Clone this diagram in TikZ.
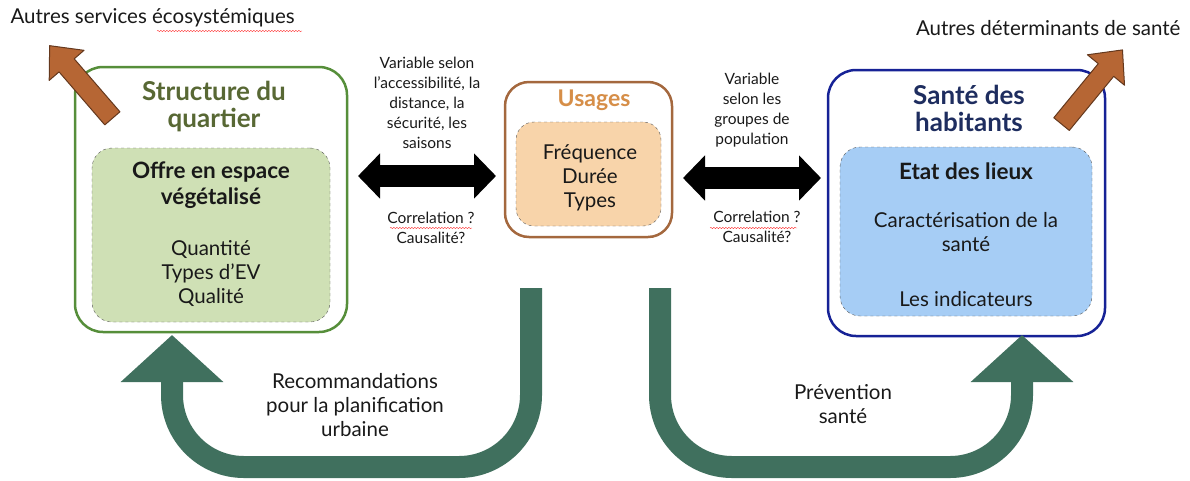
\documentclass[tikz,border=0pt]{standalone}
\usepackage{fontspec}
\setmainfont{Lato}
\usetikzlibrary{arrows.meta,decorations.pathmorphing}
\definecolor{vertbord}{RGB}{86,142,58}
\definecolor{vertitre}{RGB}{88,104,52}
\definecolor{vertfond}{RGB}{207,224,181}
\definecolor{brunbord}{RGB}{164,104,62}
\definecolor{bruntitre}{RGB}{214,142,72}
\definecolor{brunfond}{RGB}{248,212,170}
\definecolor{bleubord}{RGB}{22,34,150}
\definecolor{bleutitre}{RGB}{30,45,95}
\definecolor{bleufond}{RGB}{166,205,245}
\definecolor{brunfleche}{RGB}{182,102,52}
\definecolor{vertfleche}{RGB}{64,112,94}
\begin{document}
\begin{tikzpicture}[x=1pt,y=-1pt,
  cadre/.style={draw,line width=2.5pt,rounded corners=28pt,fill=white},
  interne/.style={draw=gray!70!black,dashed,thin,rounded corners=20pt},
  titre/.style={font=\fontsize{26}{27}\selectfont\bfseries,align=center},
  soustitre/.style={font=\fontsize{22.5}{26}\selectfont\bfseries,align=center,text=black!90},
  texte/.style={font=\fontsize{20.5}{24}\selectfont,align=center,text=black!90},
  petit/.style={font=\fontsize{15.5}{20}\selectfont,align=center,text=black!90},
  fleche/.style={line width=22pt,black,{Triangle[width=44pt,length=22pt]}-{Triangle[width=44pt,length=22pt]}},
  retour/.style={line width=22pt,vertfleche,rounded corners=72pt,-{Triangle[width=100pt,length=47pt]}},
  brun/.style={fill=brunfleche,draw=brunfleche!55!black,line width=1pt,line join=round},
  souligne/.style={red!80,thin,decorate,decoration={snake,amplitude=.7pt,segment length=3pt}}]
\useasboundingbox (0,0) rectangle (1190,480);

% cadres
\node[cadre,draw=vertbord,minimum width=272pt,minimum height=265pt] (quartier) at (211,199.5) {};
\node[interne,fill=vertfond,minimum width=238pt,minimum height=174pt] (offre) at (211,235) {};
\node[cadre,draw=brunbord,rounded corners=24pt,minimum width=167pt,minimum height=155pt] (usages) at (588.5,159.5) {};
\node[interne,fill=brunfond,rounded corners=18pt,minimum width=145pt,minimum height=104pt] (frequence) at (588.5,174) {};
\node[cadre,draw=bleubord,minimum width=277pt,minimum height=266pt] (sante) at (966.5,203) {};
\node[interne,fill=bleufond,minimum width=252pt,minimum height=169pt] (etat) at (966,231.5) {};

% fleches brunes
\draw[brun,shift={(81,82)},rotate=130.8] (-48,-10) -- (22,-10) -- (22,-23) -- (48,0) -- (22,23) -- (22,10) -- (-48,10) -- cycle;
\draw[brun,shift={(1092,87)},rotate=50.6] (-48,-10) -- (22,-10) -- (22,-24) -- (48,0) -- (22,24) -- (22,10) -- (-48,10) -- cycle;

% textes des cadres
\node[titre,text=vertitre] (tquartier) at (214,107) {Structure du\\quartier};
\node[soustitre] (toffre) at (211,185) {Offre en espace\\végétalisé};
\node[texte] (qoffre) at (211,273) {Quantité\\Types d’EV\\Qualité};
\node[titre,text=bruntitre,font=\fontsize{23}{26}\selectfont\bfseries] (tusages) at (594,100) {Usages};
\node[texte] (qusages) at (590,178) {Fréquence\\Durée\\Types};
\node[titre,text=bleutitre] (tsante) at (969,108) {Santé des\\habitants};
\node[soustitre] (tetat) at (966,171) {Etat des lieux};
\node[texte] (carac) at (966,232.5) {Caractérisation de la\\santé};
\node[texte] (indic) at (966,299) {Les indicateurs};

% textes libres
\node[texte,anchor=west] (autres1) at (7,18) {Autres services écosystémiques};
\node[texte,anchor=east] (autres2) at (1184,28) {Autres déterminants de santé};
\node[petit] (var1) at (427,103) {Variable selon\\l’accessibilité, la\\distance, la\\sécurité, les\\saisons};
\node[petit] (cor1) at (431,227.5) {Correlation ?\\Causalité?};
\node[petit] (var2) at (752,110.5) {Variable\\selon les\\groupes de\\population};
\node[petit] (cor2) at (757,227) {Correlation ?\\Causalité?};
\node[texte] (recom) at (355,405) {Recommandations\\pour la planification\\urbaine};
\node[texte] (prev) at (843,404.5) {Prévention\\santé};
\draw[souligne] (157,31) -- (302,31);
\draw[souligne] (390,228) -- (472,228);
\draw[souligne] (710,228) -- (797,228);

% fleches noires
\coordinate (a1) at (358,176);
\coordinate (a2) at (496,176);
\coordinate (b1) at (683,178);
\coordinate (b2) at (821,178);
\draw[fleche] (a1) -- (a2);
\draw[fleche] (b1) -- (b2);

% fleches de retour
\coordinate (u1) at (531,288);
\coordinate (u2) at (660,288);
\draw[retour] (u1) -- (531,467) -- (172,467) -- (172,335);
\draw[retour] (u2) -- (660,467) -- (1022,467) -- (1022,335);
\end{tikzpicture}
\end{document}
